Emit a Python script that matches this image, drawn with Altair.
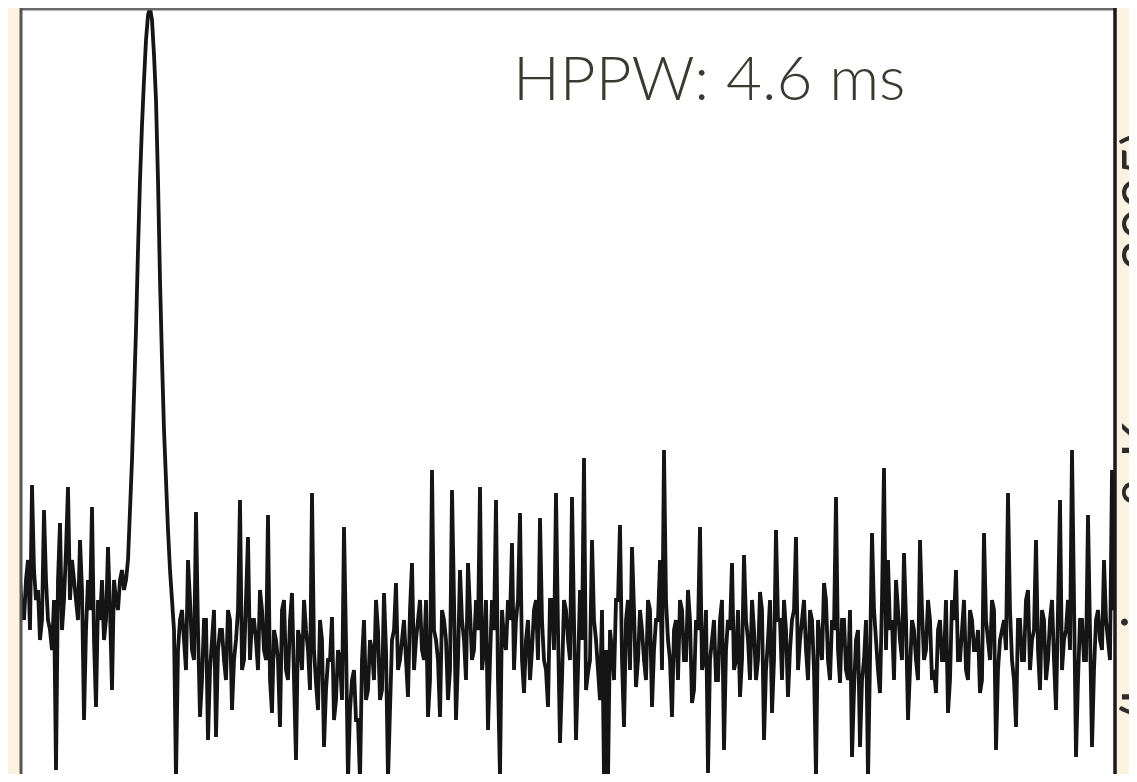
import altair as alt
import pandas as pd

# Pulse profile, flux in arbitrary units.
# Main samples, one per phase bin
pre_peak = [200, 160, 220, 295, 180, 140, 270, 160, 130, 10, 257, 180, 293, 220, 180, 240,
            60, 200, 273, 73, 160, 140, 233, 90, 180, 200, 190, 220]
pulse = [320, 450, 600, 700, 765, 760, 680, 500, 350, 250, 180, 0]
noise_a = [160, 140, 220, 130, 268, 63, 160, 40, 140, 43, 150, 120, 170, 70, 140, 280,
           120, 243, 160, 140, 190, 130, 265, 67, 140, 53, 180, 100, 187, 20, 140, 180,
           130, 287, 97, 160, 33, 120, 163, 80, 120, 253, 0, 100, 60, 0, 160, 90,
           130, 180, 80, 187, 0, 140, 197, 120]
noise_b = [160, 83, 217, 140, 180, 120, 63, 310, 140, 63, 160, 80, 290, 60, 210, 140,
           217, 120, 180, 293, 130, 50, 180, 280, 3, 140, 180, 237, 160, 267, 87, 160,
           130, 180, 262, 120, 73, 180, 287, 37, 180, 140, 283, 40, 190, 322, 107, 240,
           140, 80, 3, 0, 130, 180, 255, 53, 180, 233, 93, 170, 120, 180, 73, 160,
           220, 330, 140, 63, 160, 180, 120, 190, 77, 160, 253, 120, 7, 140, 100, 160,
           30, 160, 217, 120, 83, 225, 140, 180, 100, 188, 40, 140, 67, 250, 160, 180,
           83, 160, 243, 140]
noise_c = [180, 100, 160, 3, 140, 197, 120, 160, 283, 97, 160, 100, 23, 140, 33, 120,
           0, 247, 140, 87, 312, 220, 160, 200, 140, 227, 60, 160, 120, 240, 120, 180,
           100, 87, 160, 120, 67, 180, 210, 120, 180, 100, 160, 130, 87, 247, 140, 180,
           30, 140, 160, 287, 120, 53, 160, 120, 190, 140, 240, 90, 160, 120, 180, 70,
           280, 140, 180, 330, 23, 160, 120, 265, 33, 160, 140, 220, 140, 310, 180]

# Half-bin samples (the dense noise band between the main samples)
half_pre = [170, 200, 150, 210, 190, 160, 200, 150, 180, 200, 150, 230, 180, 200, 160, 190,
            150, 170, 140, 180, 200, 160, 170, 200, 170, 210, 200]
half_pulse = [270, 385, 530, 655, 740, 772, 725, 600, 420, 300, 210, 150]
half_a = [130, 170, 110, 180, 120, 150, 100, 160, 110, 170, 130, 150, 100, 160, 120, 170,
          110, 180, 120, 160, 110, 170, 120, 100, 150, 120, 170, 110, 160, 100, 150]
half_b = [110, 150, 90, 130, 70, 140, 90, 120, 60, 130, 80, 140, 70, 110, 60, 120,
          80, 140, 100, 150, 90, 130, 70, 150, 110, 140]
half_c = [120, 170, 110, 160, 130, 180, 100, 150, 120, 170,
          140, 110, 180, 120, 160, 100, 170, 130, 150, 110,
          180, 120, 150, 100, 170, 130, 160, 110, 180, 120,
          140, 100, 170, 120, 160, 110, 180, 130, 150, 100,
          170, 120, 160, 110, 140, 90, 120, 160, 110, 170,
          130, 150, 100, 180, 120, 160, 110, 170, 120, 150,
          100, 170, 130, 160, 110, 180, 120, 150, 100, 170,
          120, 160, 90, 150, 110, 170, 120, 160, 100, 180,
          130, 150, 110, 170, 120, 160, 100, 150, 120, 170,
          110, 180, 120, 160, 100, 150, 130, 170, 110, 160]
half_d = [130, 170, 110, 160, 120, 180, 100, 150, 130, 160,
          110, 170, 90, 150, 100, 160, 120, 170, 110, 180,
          130, 150, 100, 170, 120, 160, 110, 150, 100, 170,
          130, 160, 110, 150, 120, 180, 100, 160, 120, 150,
          110, 170, 130, 150, 100, 160, 120, 170, 110, 150,
          130, 170, 100, 160, 120, 180, 110, 150, 130, 170,
          100, 160, 120, 170, 110, 150, 130, 180, 100, 160,
          120, 150, 110, 170, 130, 160, 120, 170]

main = pre_peak + pulse + noise_a + noise_b + noise_c
half = half_pre + half_pulse + half_a + half_b + half_c + half_d

flux, phase = [], []
for i, v in enumerate(main):
    flux.append(v)
    phase.append(i)
    if i < len(half):
        flux.append(half[i])
        phase.append(i + 0.5)

label_text = ["HPPW: 4.6 ms"]
side_text = ["(Lorimer & Kramer 2005)"]

W, H = 1096, 766

df = pd.DataFrame({"bin": phase, "flux": flux})
one = pd.DataFrame({"k": [0]})

line = alt.Chart(df).mark_line(
    color="#151515", strokeWidth=3.8, clip=True, interpolate="linear", strokeJoin="miter"
).encode(
    x=alt.X("bin:Q", scale=alt.Scale(domain=[0, len(main) - 1], nice=False, zero=False), axis=None),
    y=alt.Y("flux:Q", scale=alt.Scale(domain=[6, 772], nice=False, zero=False), axis=None),
    order="bin:Q",
)

top = alt.Chart(one).mark_rule(color="#6a6a6a", strokeWidth=3).encode(
    x=alt.value(0), x2=alt.value(W), y=alt.value(1)
)
left = alt.Chart(one).mark_rule(color="#555555", strokeWidth=3).encode(
    x=alt.value(1), y=alt.value(0), y2=alt.value(H)
)
right = alt.Chart(one).mark_rule(color="#1a1a1a", strokeWidth=3.5).encode(
    x=alt.value(W - 1), y=alt.value(0), y2=alt.value(H)
)

title = alt.Chart(pd.DataFrame({"t": label_text})).mark_text(
    font="Lato", fontSize=62, fontWeight=300, color="#3a3a2e", align="left", baseline="alphabetic"
).encode(x=alt.value(493), y=alt.value(92), text="t:N")

side = alt.Chart(pd.DataFrame({"t": side_text})).mark_text(
    font="Lato", fontSize=54, color="#2b2b2b", angle=270, align="center", baseline="top"
).encode(x=alt.value(1098), y=alt.value(417), text="t:N")

chart = alt.layer(line, top, left, right, title, side).properties(
    width=W,
    height=H,
    background="#fdf1df",
    padding={"left": 12, "right": 13, "top": 0, "bottom": 0},
    autosize=alt.AutoSizeParams(type="none"),
).configure_view(strokeWidth=0, fill="white")

chart.save("out.html", embed_options={"renderer": "svg", "actions": False})
